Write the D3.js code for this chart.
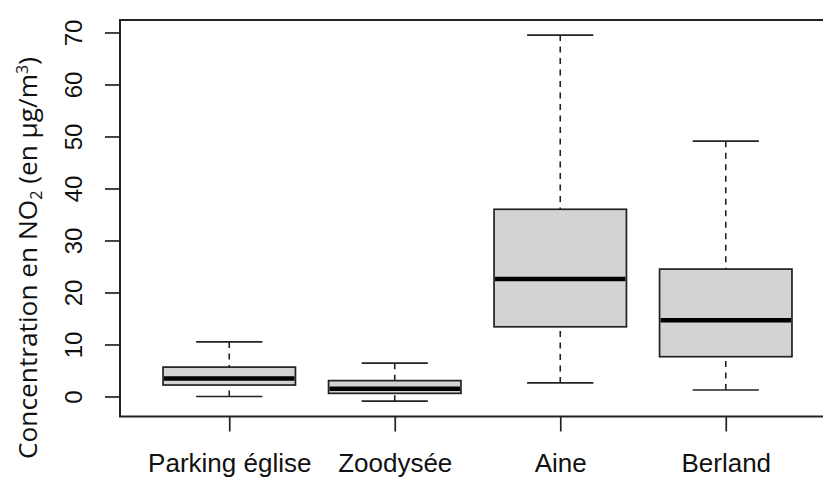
<!DOCTYPE html>
<html>
<head>
<meta charset="utf-8">
<script src="https://cdn.jsdelivr.net/npm/d3@7"></script>
<style>
  body { margin: 0; background: #fff; }
  svg { display: block; }
</style>
</head>
<body>
<div id="chart"></div>
<script>
/**
 * DATA
 * */
const sites = ["Parking église", "Zoodysée", "Aine", "Berland"];
const whiskerLow = [0, -0.9, 2.6, 1.25];
const q1 = [2.2, 0.6, 13.4, 7.65];
const medians = [3.45, 1.5, 22.6, 14.65];
const q3 = [5.65, 3.05, 36.0, 24.5];
const whiskerHigh = [10.5, 6.4, 69.5, 49.1];
const yTicks = [0, 10, 20, 30, 40, 50, 60, 70];

/**
 * CONSTANTS
 * */
const width = 823,
  height = 477,
  margin = { top: 20, bottom: 60.5, left: 120, right: -12 };

const boxes = sites.map((s, i) => ({
  site: s, pos: i + 1,
  lo: whiskerLow[i], q1: q1[i], med: medians[i], q3: q3[i], hi: whiskerHigh[i]
}));

const svg = d3.select("#chart")
  .append("svg")
  .attr("width", width)
  .attr("height", height);

// R style limits: 0.5..n+0.5 and the data range, each extended by 4%
const x = d3.scaleLinear()
  .domain([0.34, 4.66])
  .range([margin.left, width - margin.right]);
const y = d3.scaleLinear()
  .domain([-3.85, 72.4])
  .range([height - margin.bottom, margin.top]);

const step = x(2) - x(1);
const boxW = step * 0.8;
const capW = step * 0.4;
const ink = "#222";

// whiskers (dashed) + caps
const g = svg.append("g");
boxes.forEach(d => {
  const cx = x(d.pos);
  [[d.q3, d.hi], [d.q1, d.lo]].forEach(([a, b]) => {
    g.append("line")
      .attr("x1", cx).attr("x2", cx)
      .attr("y1", y(b)).attr("y2", y(a))
      .attr("stroke", ink).attr("stroke-width", 1.6)
      .attr("stroke-dasharray", "6,5.5");
    g.append("line")
      .attr("x1", cx - capW / 2).attr("x2", cx + capW / 2)
      .attr("y1", y(b)).attr("y2", y(b))
      .attr("stroke", ink).attr("stroke-width", 1.7);
  });
});

// boxes
g.selectAll("rect.box")
  .data(boxes)
  .join("rect")
  .attr("class", "box")
  .attr("x", d => x(d.pos) - boxW / 2)
  .attr("width", boxW)
  .attr("y", d => y(d.q3))
  .attr("height", d => y(d.q1) - y(d.q3))
  .attr("fill", "#d3d3d3")
  .attr("stroke", ink)
  .attr("stroke-width", 1.7);

// medians
g.selectAll("line.med")
  .data(boxes)
  .join("line")
  .attr("class", "med")
  .attr("x1", d => x(d.pos) - boxW / 2 + 1)
  .attr("x2", d => x(d.pos) + boxW / 2 - 1)
  .attr("y1", d => y(d.med))
  .attr("y2", d => y(d.med))
  .attr("stroke", "#000")
  .attr("stroke-width", 4.5);

// frame
svg.append("rect")
  .attr("x", margin.left)
  .attr("y", margin.top)
  .attr("width", width - margin.right - margin.left)
  .attr("height", height - margin.bottom - margin.top)
  .attr("fill", "none")
  .attr("stroke", ink)
  .attr("stroke-width", 2);

// y axis
const yAxis = svg.append("g")
  .attr("transform", `translate(${margin.left},0)`)
  .call(d3.axisLeft(y).tickValues(yTicks).tickSize(15).tickSizeOuter(0));
yAxis.select(".domain").remove();
yAxis.selectAll(".tick line").attr("stroke", ink).attr("stroke-width", 1.7);
yAxis.selectAll(".tick text")
  .attr("x", null).attr("dy", null)
  .attr("text-anchor", "middle")
  .attr("transform", "translate(-38,0) rotate(-90)")
  .attr("fill", "#111")
  .style("font-family", "'Liberation Sans', Arial, sans-serif")
  .style("font-size", "24px");

// x axis
const xAxis = svg.append("g")
  .attr("transform", `translate(0,${height - margin.bottom})`)
  .call(d3.axisBottom(x).tickValues(boxes.map(d => d.pos))
    .tickFormat((d, i) => sites[i]).tickSize(15).tickSizeOuter(0));
xAxis.select(".domain").remove();
xAxis.selectAll(".tick line").attr("stroke", ink).attr("stroke-width", 1.7);
xAxis.selectAll(".tick text")
  .attr("y", 55.5).attr("dy", null)
  .attr("fill", "#111")
  .style("font-family", "'Liberation Sans', Arial, sans-serif")
  .style("font-size", "26px");

// y title with subscript / superscript
const title = svg.append("text")
  .attr("transform", "translate(37,258) rotate(-90)")
  .attr("text-anchor", "middle")
  .attr("fill", "#111")
  .style("font-family", "'Open Sans', 'Noto Sans', sans-serif")
  .style("font-size", "24px");
title.append("tspan").text("Concentration en NO");
title.append("tspan").attr("dy", 5).style("font-size", "16px").text("2");
title.append("tspan").attr("dy", -5).text(" (en µg/m");
title.append("tspan").attr("dy", -9).style("font-size", "16px").text("3");
title.append("tspan").attr("dy", 9).text(")");

// squeeze the title to the width seen in the picture
const tw = title.node().getComputedTextLength();
title.style("font-size", (24 * 404 / tw) + "px");
</script>
</body>
</html>
